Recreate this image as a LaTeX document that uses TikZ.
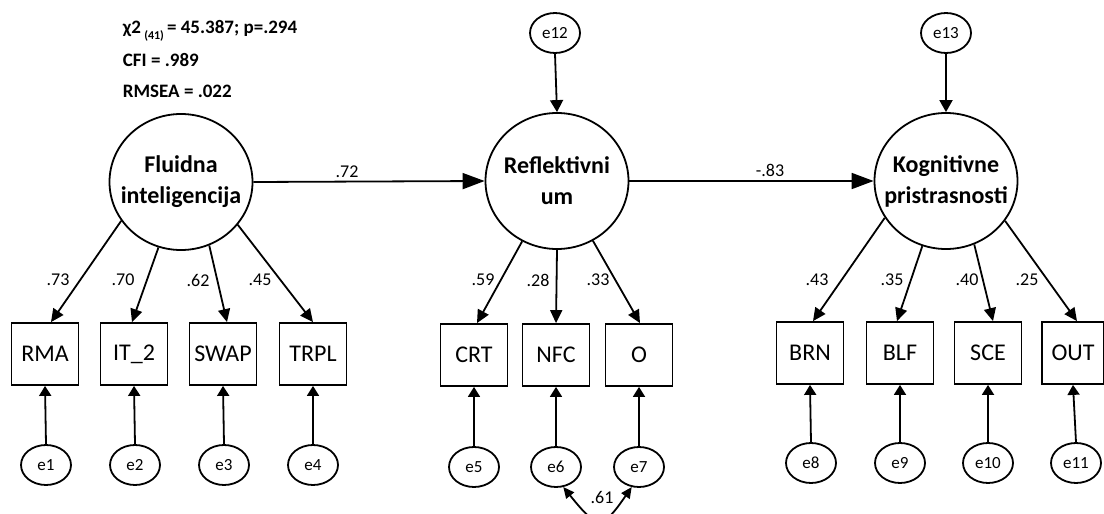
\documentclass[tikz,border=0pt]{standalone}
\usepackage{fontspec}
\setmainfont{Carlito}
\usetikzlibrary{arrows.meta,shapes.geometric}

% zero-width line, so a label may reach the outline of its ellipse
\newcommand\flatline[1]{\makebox[0pt][c]{#1}}

\begin{document}
\begin{tikzpicture}[x=1pt,y=-1pt,
  line width=1.8pt,
  latent/.style={draw, ellipse, minimum width=143pt, minimum height=136pt,
    inner sep=0pt, align=center, font=\fontsize{24}{31}\selectfont\bfseries},
  observed/.style={draw, rectangle, minimum width=67pt, minimum height=62pt,
    inner sep=0pt, font=\fontsize{24}{28}\selectfont},
  errvar/.style={draw, ellipse, minimum width=50pt, minimum height=40pt,
    inner sep=0pt, font=\fontsize{17}{20}\selectfont},
  coef/.style={font=\fontsize{18}{20}\selectfont, inner sep=0pt},
  fitstat/.style={font=\fontsize{19}{21}\selectfont\bfseries, inner sep=0pt, anchor=base west},
  bigarrow/.style={-{Triangle[length=22pt,width=16pt]}},
  loadarrow/.style={-{Triangle[length=13pt,width=12pt]}},
  distarrow/.style={-{Triangle[length=12pt,width=13pt]}},
  errarrow/.style={-{Triangle[length=10pt,width=12pt]}},
  covarrow/.style={{Triangle[length=11pt,width=10pt]}-{Triangle[length=11pt,width=10pt]}}
]
\useasboundingbox (0,0) rectangle (1104,514);
\clip (0,0) rectangle (1104,514);

% model fit
\node[fitstat] (chi) at (122,33) {χ2\,\raisebox{-6pt}{\fontsize{12}{12}\selectfont(41)}\,= 45.387; p=.294};
\node[fitstat] (cfi) at (122,66) {CFI = .989};
\node[fitstat] (rmsea) at (122,97) {RMSEA = .022};

% latent variables
\node[latent] (FI) at (181,182) {\flatline{Fluidna}\\\flatline{inteligencija}};
\node[latent] (RU) at (557,181) {\flatline{Reflektivni}\\\flatline{um}};
\node[latent] (KP) at (946,181) {\flatline{Kognitivne}\\\flatline{pristrasnosti}};

% disturbances
\node[errvar] (e12) at (555,33) {e12};
\node[errvar] (e13) at (946,33) {e13};

% indicators
\node[observed] (RMA)  at (45,354)  {RMA};
\node[observed] (IT2)  at (134,354) {IT\_2};
\node[observed] (SWAP) at (223,354) {SWAP};
\node[observed] (TRPL) at (313,354) {TRPL};
\node[observed] (CRT)  at (474,355) {CRT};
\node[observed] (NFC)  at (556,355) {NFC};
\node[observed] (O)    at (639,355) {O};
\node[observed] (BRN)  at (810,353) {BRN};
\node[observed] (BLF)  at (900,353) {BLF};
\node[observed] (SCE)  at (988,353) {SCE};
\node[observed, minimum width=62pt] (OUT) at (1073,353) {OUT};

% measurement errors
\node[errvar] (e1)  at (46,465)  {e1};
\node[errvar] (e2)  at (135,465) {e2};
\node[errvar] (e3)  at (224,465) {e3};
\node[errvar] (e4)  at (313,465) {e4};
\node[errvar] (e5)  at (474,467) {e5};
\node[errvar] (e6)  at (556,467) {e6};
\node[errvar] (e7)  at (639,467) {e7};
\node[errvar] (e8)  at (811,463) {e8};
\node[errvar] (e9)  at (900,463) {e9};
\node[errvar] (e10) at (988,463) {e10};
\node[errvar] (e11) at (1076,463) {e11};

% structural paths
\draw[bigarrow] (FI.east) -- (RU.west);
\draw[bigarrow] (RU.east) -- (KP.west);
\node[coef] (b1) at (347,172) {.72};
\node[coef] (b2) at (770,170) {-.83};
\draw[distarrow] (e12.south) -- (RU.north);
\draw[distarrow] (e13.south) -- (KP.north);

% loadings
\draw[loadarrow] (FI.213) -- ([xshift=6pt]RMA.north);
\draw[loadarrow] (FI.251) -- ([xshift=-2pt]IT2.north);
\draw[loadarrow] (FI.294) -- ([xshift=4pt]SWAP.north);
\draw[loadarrow] (FI.323) -- (TRPL.north);
\draw[loadarrow] (RU.240) -- ([xshift=3pt]CRT.north);
\draw[loadarrow] (RU.270) -- (NFC.north);
\draw[loadarrow] (RU.301) -- ([xshift=1pt]O.north);
\draw[loadarrow] (KP.211) -- ([xshift=3pt]BRN.north);
\draw[loadarrow] (KP.250) -- ([xshift=-3pt]BLF.north);
\draw[loadarrow] (KP.294) -- ([xshift=5pt]SCE.north);
\draw[loadarrow] (KP.326) -- ([xshift=4pt]OUT.north);

\node[coef] (l1)  at (58,280)   {.73};
\node[coef] (l2)  at (123,280)  {.70};
\node[coef] (l3)  at (198,280)  {.62};
\node[coef] (l4)  at (260,280)  {.45};
\node[coef] (l5)  at (483,280)  {.59};
\node[coef] (l6)  at (538,280)  {.28};
\node[coef] (l7)  at (598,280)  {.33};
\node[coef] (l8)  at (817,280)  {.43};
\node[coef] (l9)  at (892,280)  {.35};
\node[coef] (l10) at (967,280)  {.40};
\node[coef] (l11) at (1027,280) {.25};

% error paths
\foreach \e/\v in {e1/RMA,e2/IT2,e3/SWAP,e4/TRPL,e5/CRT,e6/NFC,e7/O,e8/BRN,e9/BLF,e10/SCE,e11/OUT}
  \draw[errarrow] (\e.north) -- (\v.south);

% error covariance
\draw[covarrow] (e6.-70) .. controls (598,530) and (602,530) .. (e7.-110);
\node[coef] (c1) at (602,497) {.61};
\end{tikzpicture}
\end{document}
